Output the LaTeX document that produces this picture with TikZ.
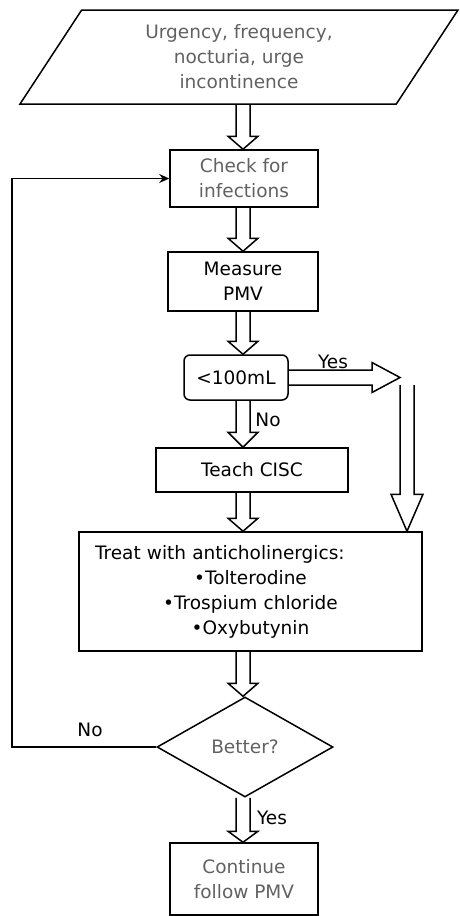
\documentclass[tikz,border=0pt]{standalone}
\usepackage{fontspec}
\setmainfont{DejaVu Sans}
\usetikzlibrary{positioning,arrows.meta,calc,shapes.geometric,backgrounds}

\begin{document}
\begin{tikzpicture}[
    x=1pt, y=-1pt,
    >={Stealth[length=10pt,width=9pt]},
    font=\fontsize{18.5}{25}\selectfont,
    box/.style={
        draw=black,
        line width=1.5pt,
        align=center,
        inner sep=0pt
    },
    soft/.style={text=black!62},
    para/.style={box, soft, trapezium, trapezium left angle=46.2,
        trapezium right angle=133.8, trapezium stretches body,
        minimum width=438, minimum height=94},
    dec/.style={box, diamond, aspect=1.76, minimum width=176, minimum height=100},
    lbl/.style={font=\fontsize{18.5}{20}\selectfont},
    blkhead/.store in=\blkhead, blkhead=15pt,
    blk/.style={draw=black, line width=1.5pt, fill=white},
    vblk/.style={blk, to path={let \p1=(\tikztostart), \p2=(\tikztotarget) in
        (\x2-7pt,\y1) -- (\x2-7pt,\y2+#1) -- (\x2-\blkhead,\y2+#1) -- (\x2,\y2)
        -- (\x2+\blkhead,\y2+#1) -- (\x2+7pt,\y2+#1) -- (\x2+7pt,\y1)}},
    vblk/.default=13pt,
    hblk/.style={blk, to path={let \p1=(\tikztostart), \p2=(\tikztotarget) in
        (\x1,\y1+7.5pt) -- (\x2-#1,\y1+7.5pt) -- (\x2-#1,\y1+\blkhead) -- (\x2,\y1)
        -- (\x2-#1,\y1-\blkhead) -- (\x2-#1,\y1-7.5pt) -- (\x1,\y1-7.5pt)}},
    hblk/.default=28pt,
    fb/.style={->, line width=1.5pt}
]
\useasboundingbox (0,0) rectangle (459,916);

% --- Flow column ---
\coordinate (col) at (243,0);

% --- Steps ---
\node[para] (sym) at (239,57) {Urgency, frequency,\\nocturia, urge\\incontinence};
\node[box, soft, minimum width=148, minimum height=57] (chk) at (244,178.5) {Check for\\infections};
\node[box, minimum width=150, minimum height=59] (pmv) at (243,281.5) {Measure\\PMV};
\node[box, rounded corners=6pt, minimum width=104, minimum height=45] (lim) at (236,377.5) {<100mL};
\node[box, minimum width=192, minimum height=44] (cisc) at (252,470) {Teach CISC};
\node[box, text width=311, inner xsep=16, minimum height=119] (treat) at (250.5,591.5)
    {\makebox[\hsize][l]{Treat with anticholinergics:}\\•Tolterodine\\•Trospium chloride\\•Oxybutynin};
\node[dec, soft] (better) at (245,747) {Better?};
\node[box, soft, minimum width=148, minimum height=72] (cont) at (244,879) {Continue\\follow PMV};

% --- Branch labels ---
\node[lbl] (yes1) at (333,362) {Yes};
\node[lbl] (no1) at (268,420) {No};
\node[lbl] (no2) at (90,730) {No};
\node[lbl] (yes2) at (272,818) {Yes};

% --- Block arrows ---
\coordinate (yesend) at (400,377.5);
\coordinate (drop) at (407,385);
\begin{scope}[on background layer]
\draw[vblk] (sym.south -| col) to (chk.north -| col);
\draw[vblk] (chk.south -| col) to (pmv.north -| col);
\draw[vblk] (pmv.south -| col) to (lim.north -| col);
\draw[vblk=15pt] (lim.south -| col) to (cisc.north -| col);
\draw[vblk] (cisc.south -| col) to (treat.north -| col);
\draw[vblk] (treat.south -| col) to (better.north -| col);
\draw[vblk=11pt] (better.south -| col) to (cont.north -| col);
\draw[hblk] (lim.east) to (yesend);
\draw[vblk=37pt, blkhead=16pt] (drop) to (treat.north -| drop);
\end{scope}

% --- Loop back ---
\coordinate (lp) at (12,460);
\draw[fb] (better.west) -| (lp) |- (chk.west);

\end{tikzpicture}
\end{document}
